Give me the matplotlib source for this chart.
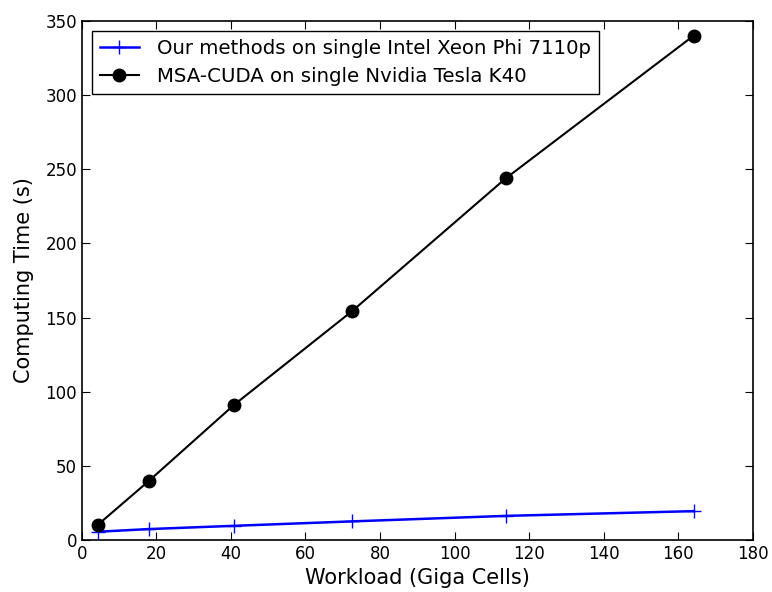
import matplotlib
matplotlib.use("Agg")
import matplotlib.pyplot as plt

# Workload (Giga Cells)
workload = [4.3, 17.9, 40.8, 72.6, 113.7, 164.2]

# Computing time (s)
phi_time = [5.5, 7.3, 9.5, 12.5, 16.2, 19.4]
cuda_time = [10.2, 39.6, 91.0, 154.5, 243.8, 340.2]

labels = ["Our methods on single Intel Xeon Phi 7110p",
          "MSA-CUDA on single Nvidia Tesla K40"]

fig = plt.figure(figsize=(7.72, 5.92), dpi=100)
ax = fig.add_axes([0.106, 0.088, 0.869, 0.8765])

ax.plot(workload, phi_time, color="blue", marker="+", markersize=10,
        markeredgewidth=1.0, linewidth=1.8, label=labels[0])
ax.plot(workload, cuda_time, color="black", marker="o", markersize=9,
        linewidth=1.5, label=labels[1])

ax.set_xlim(0, 180)
ax.set_ylim(0, 350)
ax.set_xticks(range(0, 181, 20))
ax.set_yticks(range(0, 351, 50))
ax.tick_params(direction="in", top=True, right=True, labelsize=12, length=6)
for s in ax.spines.values():
    s.set_linewidth(1.2)
ax.set_xlabel("Workload (Giga Cells)", fontsize=15)
ax.set_ylabel("Computing Time (s)", fontsize=15, labelpad=8)

leg = ax.legend(loc="upper left", fontsize=14.2, fancybox=False,
                framealpha=1, edgecolor="black", borderaxespad=0.5,
                handlelength=2.0, borderpad=0.4, labelspacing=0.45,
                handletextpad=0.9)
leg.get_frame().set_linewidth(1.0)

fig.savefig("out.png", dpi=100)
